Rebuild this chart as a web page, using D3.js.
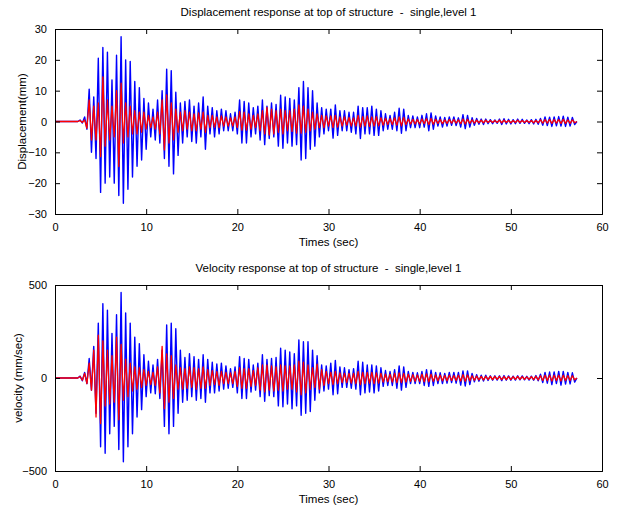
<!DOCTYPE html>
<html><head><meta charset="utf-8">
<script src="https://cdn.jsdelivr.net/npm/d3@7"></script>
<style>
body{margin:0;background:#fff;}
svg text{font-family:"Liberation Sans",Arial,sans-serif;font-size:11px;fill:#000;}
</style></head><body>
<svg id="c" width="634" height="507"></svg>
<script>
// sampling step of the read-off extremes (seconds)
const dt = 0.25;
const xTicks = [0,10,20,30,40,50,60];
const dispTicks = [-30,-20,-10,0,10,20,30];
const velTicks = [-500,0,500];

const dispBlue = [0,0,0,0,0,0,0,0,0,0,0,0.5,-0.5,1.5,-2.5,10.5,-10,8,-12,20.5,
-23,24,-20,22.5,-18,13.5,-20,21.5,-24,27.5,-26.5,20,-22,19.5,-18,13,-14.5,11,-12.5,7.5,
-9,6,-5,4,-6,7,-7,10,-12,17,-14.5,16.5,-17,9.5,-11,6,-7,6.5,-5,7,
-6.5,5,-7,6,-5,8,-9,5,-4,4.5,-5,3.5,-4,4,-3,3.5,-3,2.5,-3,3,
-4,7,-7,6.5,-7,6,-5,4.5,-4,5,-6,7,-7.5,5,-5.5,6,-5,5.5,-8,8.5,
-8.7,8,-7,7.5,-8,7,-7.5,11,-12.5,13,-12,11,-9,10,-8,6,-5,4.5,-4,4,
-3,4,-5.4,5.4,-4.5,3.5,-3,3.5,-3,3,-3.5,3,-4,5,-5.5,4.5,-4,4.5,-4,5,
-4.5,4,-4.5,3.5,-3,2.5,-2.5,2,-2.5,3,-3,4.3,-3.8,4,-3,2,-2,1.8,-2,1.5,
-2,2,-1.8,2.5,-3,2.8,-2.5,1.8,-1.5,1.5,-1.8,1.3,-1.5,1.5,-1.2,1.5,-1.3,1.2,-1.8,2.2,
-2.3,2,-1.8,1.2,-1.2,1,-0.9,0.8,-1,0.8,-0.7,0.6,-0.7,0.5,-0.6,0.8,-1,0.9,-0.8,0.7,
-0.8,0.6,-0.7,0.8,-0.6,0.7,-0.6,0.5,-0.7,0.6,-0.8,0.7,-0.9,1,-1.2,1.5,-1.3,1.4,-1.6,1.5,
-1.4,1.6,-1.5,1.7,-1.6,1.4,-1.5,1.3,-1,0];

const dispRed = [0,0,0,0,0,0,0,0,0,0,0,0.3,-0.3,0.5,-2.2,7,-6,5,-6,6,
-11.4,14.5,-8,7,-6,5,-5,10,-14.6,12.4,-7,6,-5,5,-4,3.5,-4,3,-3.5,3,
-2.5,2,-2,1.5,-2.5,3,-4,7,-9.2,8.6,-7,6,-6,4,-3.5,3,-3,3.5,-2.5,3,
-3,2.5,-3,2.8,-2.5,3,-3.5,2,-2,2,-1.8,1.5,-2,1.8,-1.5,1.5,-1.5,1.2,-1.5,1.5,
-2,3.2,-2.8,3,-2.8,2.5,-2.5,2,-2,2.5,-3,3.5,-4,4.6,-4.4,4,-4,3.5,-3.5,4,
-4,3.5,-3,3.5,-3.2,4,-3.8,5.4,-3.8,5,-3.5,4,-3,3,-2.5,2.5,-2,2,-2,1.8,
-1.5,1.8,-2,2,-1.8,1.5,-1.5,1.5,-1.2,1.3,-1.5,1.2,-1.5,2,-1.8,1.6,-1.5,1.8,-1.6,1.5,
-1.5,1.6,-1.4,1.2,-1.2,1,-1,0.9,-1,1.2,-1.2,1.5,-1.4,1.3,-1,0.8,-0.8,0.7,-0.8,0.6,
-0.8,0.8,-0.7,0.9,-1,1,-0.9,0.7,-0.6,0.6,-0.7,0.5,-0.6,0.6,-0.5,0.6,-0.5,0.5,-0.7,0.8,
-0.8,0.7,-0.6,0.5,-0.5,0.4,-0.4,0.4,-0.4,0.4,-0.3,0.3,-0.3,0.3,-0.3,0.4,-0.4,0.4,-0.3,0.3,
-0.4,0.3,-0.3,0.4,-0.3,0.3,-0.3,0.3,-0.3,0.3,-0.4,0.3,-0.4,0.5,-0.5,0.6,-0.5,0.6,-0.6,0.6,
-0.5,0.6,-0.6,0.7,-0.6,0.5,-0.6,0.5,-0.4,0];

const velBlue = [0,0,0,0,0,0,0,0,0,0,0,10,-15,30,-30,105,-65,170,-190,295,
-370,400,-405,365,-300,240,-260,340,-385,460,-450,350,-370,295,-300,220,-210,185,-170,125,
-100,90,-80,70,-85,100,-110,150,-260,285,-300,295,-260,265,-190,150,-130,110,-120,130,
-100,115,-120,100,-110,125,-130,100,-80,85,-80,75,-70,80,-60,65,-55,50,-50,60,
-80,115,-110,105,-110,100,-75,70,-65,80,-100,125,-125,100,-95,105,-100,110,-150,160,
-155,150,-140,140,-165,130,-150,205,-200,195,-190,195,-180,150,-120,120,-80,70,-70,65,
-60,80,-90,95,-85,60,-50,55,-50,45,-55,50,-60,90,-90,85,-80,70,-75,70,
-80,65,-70,55,-45,40,-40,35,-40,45,-55,65,-65,60,-50,35,-30,30,-30,28,
-30,35,-40,45,-45,42,-40,30,-30,28,-30,25,-28,30,-25,30,-28,30,-38,38,
-43,38,-35,25,-20,18,-17,15,-16,15,-13,12,-12,12,-11,12,-14,13,-12,11,
-12,10,-11,12,-10,11,-10,9,-11,10,-12,13,-15,20,-25,30,-28,32,-35,33,
-30,35,-38,35,-33,30,-32,28,-22,0];

const velRed = [0,0,0,0,0,0,0,0,0,0,0,8,-12,25,-30,80,-65,150,-210,230,
-245,200,-150,150,-140,120,-130,220,-225,180,-120,100,-100,80,-70,60,-60,55,-50,45,
-40,35,-35,30,-40,60,-80,170,-165,130,-130,120,-110,70,-60,55,-60,50,-55,60,
-50,55,-60,50,-55,60,-55,45,-40,40,-35,35,-40,35,-30,30,-30,28,-30,35,
-45,55,-55,50,-55,50,-45,40,-40,55,-65,70,-75,70,-65,65,-70,60,-65,70,
-70,65,-60,65,-60,70,-75,90,-90,85,-80,70,-60,55,-50,75,-60,45,-40,35,
-30,30,-35,35,-30,28,-25,25,-25,25,-28,25,-30,35,-35,30,-30,30,-28,30,
-30,28,-28,25,-22,20,-20,20,-22,25,-25,28,-25,25,-22,20,-18,18,-18,16,
-18,20,-20,22,-20,20,-18,16,-15,15,-15,14,-15,15,-13,14,-14,15,-16,18,
-18,16,-15,12,-12,10,-10,9,-10,9,-8,8,-8,8,-7,8,-9,8,-8,7,
-8,7,-7,8,-7,7,-7,6,-7,7,-8,9,-10,12,-13,15,-14,15,-16,15,
-14,15,-16,15,-14,13,-13,12,-10,0];

const svg = d3.select("#c");
const X0 = 55, X1 = 602;

function panel(cfg){
  const x = d3.scaleLinear().domain([0,60]).range([X0,X1]);
  const y = d3.scaleLinear().domain(cfg.domain).range([cfg.bottom,cfg.top]);
  const g = svg.append("g");
  const line = d3.line().x((d,i)=>x(i*dt)).y(d=>y(d));
  g.append("path").datum(cfg.blue).attr("d",line)
    .attr("fill","none").attr("stroke","#0000ff").attr("stroke-width",1.4).attr("stroke-linejoin","round");
  g.append("path").datum(cfg.red).attr("d",line)
    .attr("fill","none").attr("stroke","#ff0000").attr("stroke-width",1.3).attr("stroke-linejoin","round");

  const tl = 5;
  g.append("g").attr("transform",`translate(0,${cfg.bottom})`)
    .call(d3.axisBottom(x).tickValues(xTicks).tickSize(-tl).tickPadding(9).tickFormat(d3.format("d")));
  g.append("g").attr("transform",`translate(0,${cfg.top})`)
    .call(d3.axisTop(x).tickValues(xTicks).tickSize(-tl).tickFormat(""));
  g.append("g").attr("transform",`translate(${X0},0)`)
    .call(d3.axisLeft(y).tickValues(cfg.ticks).tickSize(-tl).tickPadding(8).tickFormat(d3.format("d")));
  g.append("g").attr("transform",`translate(${X1},0)`)
    .call(d3.axisRight(y).tickValues(cfg.ticks).tickSize(-tl).tickFormat(""));
  g.selectAll(".domain").attr("stroke","#000");
  g.selectAll(".tick line").attr("stroke","#000");
  g.selectAll(".tick text").style("font-family",'"Liberation Sans",Arial,sans-serif').style("font-size","11px").attr("fill","#000");

  svg.append("text").attr("x",(X0+X1)/2).attr("y",cfg.top-13).attr("text-anchor","middle")
    .style("white-space","pre").style("font-size","11.5px").text(cfg.title);
  svg.append("text").attr("x",(X0+X1)/2).attr("y",cfg.bottom+32).attr("text-anchor","middle")
    .style("font-size","11.5px").text("Times (sec)");
  svg.append("text").attr("transform",`translate(${cfg.ylx},${(cfg.top+cfg.bottom)/2}) rotate(-90)`)
    .attr("text-anchor","middle").style("font-size","11.5px").text(cfg.ylabel);
}

panel({domain:[-30,30],top:29,bottom:214,ticks:dispTicks,blue:dispBlue,red:dispRed,
  title:"Displacement response at top of structure  -  single,level 1",ylabel:"Displacement(mm)",ylx:26});
panel({domain:[-500,500],top:285,bottom:471,ticks:velTicks,blue:velBlue,red:velRed,
  title:"Velocity response at top of structure  -  single,level 1",ylabel:"velocity (mm/sec)",ylx:22});
</script>
</body></html>
